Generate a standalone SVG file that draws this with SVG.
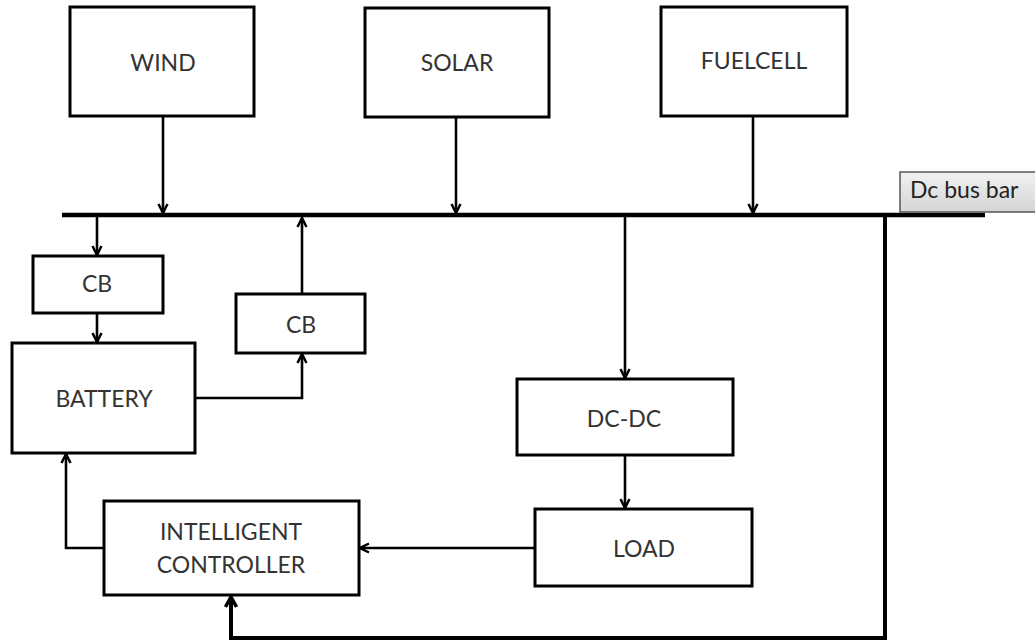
<svg xmlns="http://www.w3.org/2000/svg" width="1035" height="642" viewBox="0 0 1035 642">
<style>
.box{fill:#fff;stroke:#000;stroke-width:3}
.t{font-family:Lato,"Open Sans","Liberation Sans",sans-serif;font-size:23px;fill:#333;text-anchor:middle}
.c{fill:none;stroke:#000;stroke-width:2.6;stroke-linejoin:miter}
</style>
<defs>
<linearGradient id="g" x1="0" y1="0" x2="0" y2="1">
<stop offset="0" stop-color="#f2f2f2"/>
<stop offset="1" stop-color="#d4d4d4"/>
</linearGradient>
<marker id="a" viewBox="0 0 12 12" refX="10.5" refY="6" markerWidth="12" markerHeight="12" markerUnits="userSpaceOnUse" orient="auto">
<path d="M1.5,1.5 L10.5,6 L1.5,10.5" fill="none" stroke="#000" stroke-width="2.5"/>
</marker>
<marker id="ab" viewBox="0 0 14 14" refX="12" refY="7" markerWidth="14" markerHeight="14" markerUnits="userSpaceOnUse" orient="auto">
<path d="M2,1.5 L12,7 L2,12.5" fill="none" stroke="#000" stroke-width="3.5"/>
</marker>
</defs>
<g id="connectors">
<line x1="62" y1="215" x2="985" y2="215" stroke="#000" stroke-width="4.5"/>
<line class="c" x1="163" y1="116" x2="163" y2="213" marker-end="url(#a)"/>
<line class="c" x1="456" y1="117" x2="456" y2="213" marker-end="url(#a)"/>
<line class="c" x1="753" y1="116" x2="753" y2="213" marker-end="url(#a)"/>
<line class="c" x1="97" y1="217" x2="97" y2="255" marker-end="url(#a)"/>
<line class="c" x1="97" y1="313" x2="97" y2="342" marker-end="url(#a)"/>
<line class="c" x1="302" y1="294" x2="302" y2="218" marker-end="url(#a)"/>
<polyline class="c" points="195,398 302,398 302,354" marker-end="url(#a)"/>
<polyline class="c" points="104,548 66,548 66,454" marker-end="url(#a)"/>
<line class="c" x1="535" y1="548" x2="360" y2="548" marker-end="url(#a)"/>
<line class="c" x1="625" y1="217" x2="625" y2="378" marker-end="url(#a)"/>
<line class="c" x1="625" y1="455" x2="625" y2="508" marker-end="url(#a)"/>
<polyline fill="none" stroke="#000" stroke-width="4" points="885,215 885,638 231,638 231,597" marker-end="url(#ab)"/>
</g>
<g id="wind"><rect class="box" x="70" y="7" width="184" height="109"/><text class="t" x="163" y="71">WIND</text></g>
<g id="solar"><rect class="box" x="365" y="8" width="184" height="109"/><text class="t" x="457" y="71">SOLAR</text></g>
<g id="fuelcell"><rect class="box" x="661" y="7" width="186" height="109"/><text class="t" x="754" y="69">FUELCELL</text></g>
<g id="dcbusbar"><rect x="900" y="172" width="140" height="40" fill="url(#g)" stroke="#555" stroke-width="1.5"/><text x="910" y="198" font-family="Lato,'Open Sans','Liberation Sans',sans-serif" font-size="23" fill="#222">Dc bus bar</text></g>
<g id="cb1"><rect class="box" x="33" y="256" width="130" height="57"/><text class="t" x="97" y="292">CB</text></g>
<g id="cb2"><rect class="box" x="236" y="294" width="129" height="59"/><text class="t" x="301" y="333">CB</text></g>
<g id="battery"><rect class="box" x="12" y="343" width="183" height="110"/><text class="t" x="104" y="407">BATTERY</text></g>
<g id="controller"><rect class="box" x="104" y="501" width="255" height="94"/><text class="t" x="231" y="540">INTELLIGENT</text><text class="t" x="231" y="573">CONTROLLER</text></g>
<g id="dcdc"><rect class="box" x="517" y="379" width="216" height="76"/><text class="t" x="624" y="427">DC-DC</text></g>
<g id="load"><rect class="box" x="535" y="509" width="217" height="77"/><text class="t" x="644" y="557">LOAD</text></g>
</svg>
